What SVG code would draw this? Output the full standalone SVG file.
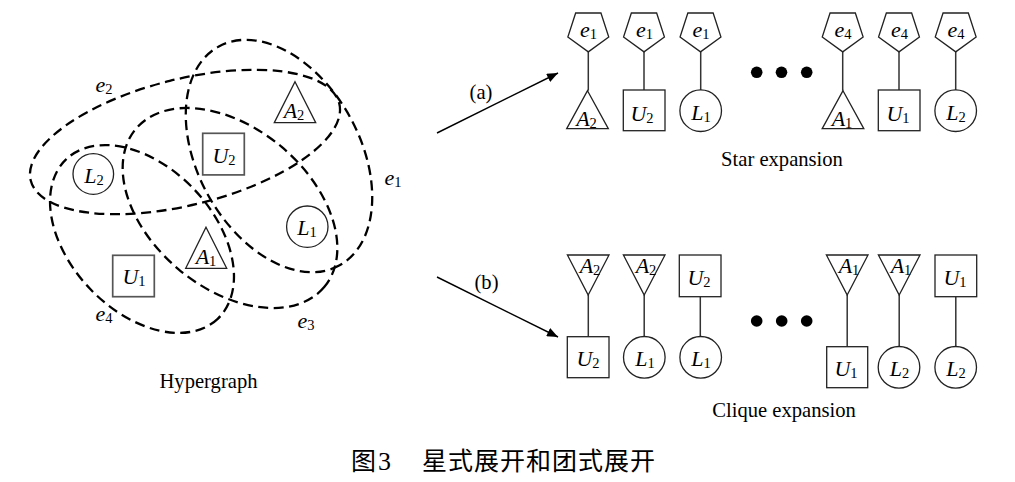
<svg xmlns="http://www.w3.org/2000/svg" xmlns:xlink="http://www.w3.org/1999/xlink" width="1015" height="482" viewBox="0 0 1015 482">
<style>
.edge{fill:none;stroke:#000;stroke-width:2.3;stroke-dasharray:10 5.5}
.nd{fill:#fff;stroke:#222;stroke-width:1.3}
.ndg{fill:#fff;stroke:#555;stroke-width:1.7}
.ln{stroke:#333;stroke-width:1.5;fill:none}
.arw{stroke:#000;stroke-width:1.4;fill:none}
.t{font-family:"Liberation Serif","Times New Roman",serif;font-size:20.6px;fill:#000;text-anchor:middle}
.lbl{font-family:"Liberation Serif","Times New Roman",serif;font-style:italic;font-size:22px;fill:#000;text-anchor:middle}
.sub{font-style:normal;font-size:14.5px}
.cjk{font-family:"Noto Sans CJK SC","Noto Sans CJK JP",sans-serif;font-size:25px;fill:#000}
.num{font-family:"Liberation Serif","Times New Roman",serif;font-size:26px;fill:#000}
.dot{fill:#000}
</style>
<defs>
<marker id="arr" markerWidth="11" markerHeight="9" refX="11" refY="4.5" orient="auto" markerUnits="userSpaceOnUse"><path d="M0,0 L11,4.5 L0,9 z" fill="#000"/></marker>
<polygon id="pent" points="0,21.5 20.45,6.64 12.64,-17.4 -12.64,-17.4 -20.45,6.64"/>
<polygon id="tup" points="0,-19 20.8,19 -20.8,19"/>
<polygon id="tdn" points="0,20 20.8,-20 -20.8,-20"/>
</defs>
<rect width="1015" height="482" fill="#fff"/>

<!-- Hypergraph hyperedges -->
<g id="hyperedges">
<ellipse class="edge" cx="279" cy="156" rx="125" ry="81" transform="rotate(61 279 156)"/>
<ellipse class="edge" cx="185" cy="142" rx="159" ry="63" transform="rotate(-14 185 142)"/>
<ellipse class="edge" cx="230" cy="208" rx="123" ry="80" transform="rotate(40 230 208)"/>
<ellipse class="edge" cx="142" cy="239" rx="110" ry="72" transform="rotate(46.5 142 239)"/>
<text class="lbl" x="104" y="92">e<tspan class="sub" dy="2">2</tspan></text>
<text class="lbl" x="393" y="185">e<tspan class="sub" dy="2">1</tspan></text>
<text class="lbl" x="104" y="321">e<tspan class="sub" dy="2">4</tspan></text>
<text class="lbl" x="306" y="328">e<tspan class="sub" dy="2">3</tspan></text>
</g>

<!-- Hypergraph nodes -->
<g id="h-L2"><circle class="nd" cx="93.3" cy="174" r="20.3"/><text class="lbl" x="94" y="183">L<tspan class="sub" dy="2">2</tspan></text></g>
<g id="h-U2"><rect class="ndg" x="202.7" y="133.3" width="41.6" height="41.6"/><text class="lbl" x="224" y="163">U<tspan class="sub" dy="2">2</tspan></text></g>
<g id="h-A2"><polygon class="nd" points="295,81.7 315.7,122.7 274.3,122.7"/><text class="lbl" x="294" y="118">A<tspan class="sub" dy="2">2</tspan></text></g>
<g id="h-L1"><circle class="nd" cx="307.3" cy="226.7" r="20.7"/><text class="lbl" x="307" y="235">L<tspan class="sub" dy="2">1</tspan></text></g>
<g id="h-A1"><polygon class="nd" points="206,227.3 226.7,268.3 185.7,268.3"/><text class="lbl" x="206" y="264">A<tspan class="sub" dy="2">1</tspan></text></g>
<g id="h-U1"><rect class="ndg" x="112.7" y="255.3" width="41.6" height="41.4"/><text class="lbl" x="134" y="284">U<tspan class="sub" dy="2">1</tspan></text></g>
<text class="t" x="208.5" y="388">Hypergraph</text>

<!-- Connectors -->
<g id="connectors">
<line class="arw" x1="437" y1="133" x2="558" y2="73" marker-end="url(#arr)"/>
<line class="arw" x1="437" y1="277" x2="558" y2="337" marker-end="url(#arr)"/>
<line class="ln" x1="588.3" y1="52" x2="588.3" y2="90.7"/>
<line class="ln" x1="644" y1="52" x2="644" y2="90"/>
<line class="ln" x1="700.7" y1="52" x2="700.7" y2="90"/>
<line class="ln" x1="842.7" y1="52" x2="842.7" y2="90.7"/>
<line class="ln" x1="899" y1="52" x2="899" y2="90"/>
<line class="ln" x1="955.7" y1="52" x2="955.7" y2="90"/>
<line class="ln" x1="588.3" y1="295" x2="588.3" y2="336.7"/>
<line class="ln" x1="644.2" y1="295" x2="644.2" y2="336.5"/>
<line class="ln" x1="700.3" y1="296.7" x2="700.3" y2="336.5"/>
<line class="ln" x1="847.2" y1="295" x2="847.2" y2="346.7"/>
<line class="ln" x1="899.2" y1="295" x2="899.2" y2="346.5"/>
<line class="ln" x1="955.8" y1="296.7" x2="955.8" y2="346.5"/>
</g>
<text class="t" x="481" y="99">(a)</text>
<text class="t" x="486.5" y="289">(b)</text>

<!-- Star expansion -->
<g id="s1-e1"><use xlink:href="#pent" x="588.3" y="30.4" class="nd"/><text class="lbl" x="588.5" y="37">e<tspan class="sub" dy="2">1</tspan></text></g>
<g id="s1-A2"><use xlink:href="#tup" x="587.5" y="109.7" class="nd"/><text class="lbl" x="586.5" y="126">A<tspan class="sub" dy="2">2</tspan></text></g>
<g id="s2-e1"><use xlink:href="#pent" x="644" y="30.4" class="nd"/><text class="lbl" x="644.5" y="37">e<tspan class="sub" dy="2">1</tspan></text></g>
<g id="s2-U2"><rect class="nd" x="623.3" y="90" width="41.7" height="40.7"/><text class="lbl" x="642" y="121">U<tspan class="sub" dy="2">2</tspan></text></g>
<g id="s3-e1"><use xlink:href="#pent" x="700.5" y="30.4" class="nd"/><text class="lbl" x="701" y="37">e<tspan class="sub" dy="2">1</tspan></text></g>
<g id="s3-L1"><circle class="nd" cx="700.7" cy="110.7" r="20.8"/><text class="lbl" x="701" y="119.5">L<tspan class="sub" dy="2">1</tspan></text></g>
<g id="s4-e4"><use xlink:href="#pent" x="842.7" y="30.4" class="nd"/><text class="lbl" x="843" y="37">e<tspan class="sub" dy="2">4</tspan></text></g>
<g id="s4-A1"><use xlink:href="#tup" x="843" y="109.7" class="nd"/><text class="lbl" x="842" y="126">A<tspan class="sub" dy="2">1</tspan></text></g>
<g id="s5-e4"><use xlink:href="#pent" x="899" y="30.4" class="nd"/><text class="lbl" x="899.5" y="37">e<tspan class="sub" dy="2">4</tspan></text></g>
<g id="s5-U1"><rect class="nd" x="878.3" y="90" width="41.7" height="40.7"/><text class="lbl" x="898" y="121">U<tspan class="sub" dy="2">1</tspan></text></g>
<g id="s6-e4"><use xlink:href="#pent" x="955.7" y="30.4" class="nd"/><text class="lbl" x="956" y="37">e<tspan class="sub" dy="2">4</tspan></text></g>
<g id="s6-L2"><circle class="nd" cx="955.7" cy="110.7" r="20.8"/><text class="lbl" x="956" y="119.5">L<tspan class="sub" dy="2">2</tspan></text></g>
<g id="s-dots"><circle class="dot" cx="756.7" cy="72.3" r="5.8"/><circle class="dot" cx="781.5" cy="72.3" r="5.8"/><circle class="dot" cx="806.7" cy="72.3" r="5.8"/></g>
<text class="t" x="782" y="166">Star expansion</text>

<!-- Clique expansion -->
<g id="c1-A2"><use xlink:href="#tdn" x="588.2" y="275" class="nd"/><text class="lbl" x="590" y="273">A<tspan class="sub" dy="2">2</tspan></text></g>
<g id="c1-U2"><rect class="nd" x="567.3" y="336.7" width="41.7" height="41"/><text class="lbl" x="588" y="366">U<tspan class="sub" dy="2">2</tspan></text></g>
<g id="c2-A2"><use xlink:href="#tdn" x="644.2" y="275" class="nd"/><text class="lbl" x="646" y="273">A<tspan class="sub" dy="2">2</tspan></text></g>
<g id="c2-L1"><circle class="nd" cx="644.3" cy="357.3" r="20.8"/><text class="lbl" x="645" y="366">L<tspan class="sub" dy="2">1</tspan></text></g>
<g id="c3-U2"><rect class="nd" x="679.3" y="255" width="41.7" height="41.7"/><text class="lbl" x="699" y="285">U<tspan class="sub" dy="2">2</tspan></text></g>
<g id="c3-L1"><circle class="nd" cx="700.7" cy="357.3" r="20.8"/><text class="lbl" x="701" y="366">L<tspan class="sub" dy="2">1</tspan></text></g>
<g id="c4-A1"><use xlink:href="#tdn" x="847.2" y="275" class="nd"/><text class="lbl" x="849" y="273">A<tspan class="sub" dy="2">1</tspan></text></g>
<g id="c4-U1"><rect class="nd" x="826.7" y="346.7" width="41" height="41"/><text class="lbl" x="846" y="376">U<tspan class="sub" dy="2">1</tspan></text></g>
<g id="c5-A1"><use xlink:href="#tdn" x="899.2" y="275" class="nd"/><text class="lbl" x="901" y="273">A<tspan class="sub" dy="2">1</tspan></text></g>
<g id="c5-L2"><circle class="nd" cx="899" cy="367.3" r="20.8"/><text class="lbl" x="899.5" y="376">L<tspan class="sub" dy="2">2</tspan></text></g>
<g id="c6-U1"><rect class="nd" x="935" y="255" width="41.7" height="41.7"/><text class="lbl" x="955" y="285">U<tspan class="sub" dy="2">1</tspan></text></g>
<g id="c6-L2"><circle class="nd" cx="955.7" cy="367.3" r="20.8"/><text class="lbl" x="956" y="376">L<tspan class="sub" dy="2">2</tspan></text></g>
<g id="c-dots"><circle class="dot" cx="756.7" cy="321" r="5.8"/><circle class="dot" cx="781.7" cy="321" r="5.8"/><circle class="dot" cx="806.7" cy="321" r="5.8"/></g>
<text class="t" x="784" y="417">Clique expansion</text>

<!-- Caption -->
<text class="cjk" x="351" y="470" font-size="24">图</text>
<text class="num" x="378" y="470">3</text>
<text class="cjk" x="422" y="470" letter-spacing="1">星式展开和团式展开</text>
</svg>
